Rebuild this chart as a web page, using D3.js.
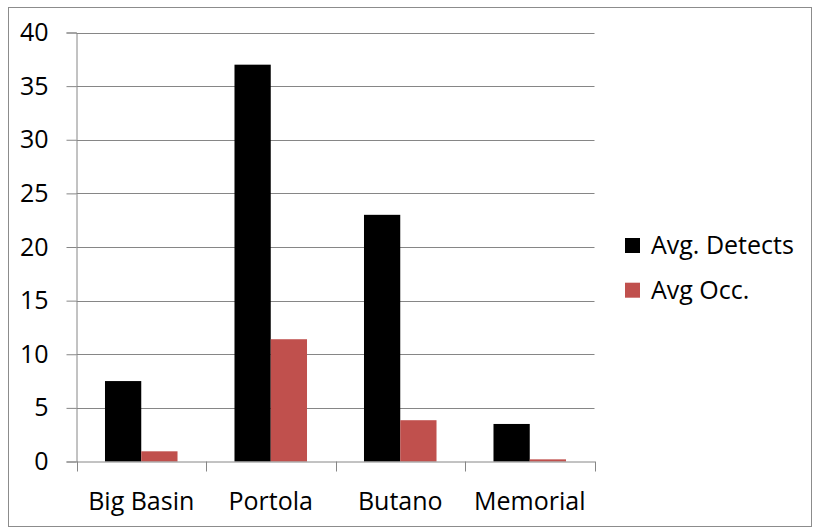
<!DOCTYPE html>
<html><head><meta charset="utf-8">
<script src="https://cdn.jsdelivr.net/npm/d3@7"></script>
<style>body{margin:0;background:#fff}text{font-family:"Open Sans",sans-serif}</style>
</head><body><svg id="c" width="815" height="529"></svg>
<script>
const categories = ["Big Basin","Portola","Butano","Memorial"];
const seriesNames = ["Avg. Detects","Avg Occ."];
const avgDetects = [7.5,37,23,3.5];
const avgOcc = [0.95,11.4,3.85,0.2];
const yTicks = [0,5,10,15,20,25,30,35,40];
const colors = ["#000000","#C0504D"];

const svg = d3.select("#c");
svg.append("rect").attr("x",8.5).attr("y",7.5).attr("width",803).attr("height",519)
  .attr("fill","#fff").attr("stroke","#8c8c8c").attr("stroke-width",1);

const L=76.5, R=594.5, T=32.5, B=461.5;
const x = d3.scaleBand().domain(categories).range([L,R]).paddingInner(0).paddingOuter(0);
const y = d3.scaleLinear().domain([0,40]).range([B,T]);
const fs = 25;
const ff = "Open Sans";

// gridlines
svg.append("g").selectAll("line").data(yTicks.filter(d=>d>0)).join("line")
  .attr("x1",L).attr("x2",R).attr("y1",d=>Math.round(y(d))+0.5).attr("y2",d=>Math.round(y(d))+0.5)
  .attr("stroke","#868686");

// y axis
const ya = svg.append("g").attr("transform",`translate(${L},0)`)
  .call(d3.axisLeft(y).tickValues(yTicks).tickSize(10).tickPadding(18));
ya.select(".domain").attr("stroke","#868686");
ya.selectAll(".tick line").attr("stroke","#868686");
ya.selectAll(".tick text").attr("font-size",fs).attr("fill","#000").style("font-family",ff);

// bars
const data = [avgDetects, avgOcc];
const bw = x.bandwidth()*0.28;
seriesNames.forEach((s,i)=>{
  svg.append("g").selectAll("rect").data(categories).join("rect")
    .attr("x",(c)=>x(c)+x.bandwidth()*0.22+i*bw)
    .attr("width",bw)
    .attr("y",(c,j)=>y(data[i][j]))
    .attr("height",(c,j)=>y(0)-y(data[i][j]))
    .attr("fill",colors[i]);
});

// x axis
const xa = svg.append("g").attr("transform",`translate(0,${B})`)
  .call(d3.axisBottom(x).tickSize(0).tickPadding(30));
xa.select(".domain").attr("stroke","#868686");
xa.selectAll(".tick text").attr("font-size",fs).attr("fill","#000").style("font-family",ff).attr("dy","0.72em");
const bounds = categories.map(c=>x(c)).concat([R]);
svg.append("g").selectAll("line").data(bounds).join("line")
  .attr("x1",d=>Math.round(d)+0.5).attr("x2",d=>Math.round(d)+0.5).attr("y1",B).attr("y2",B+10)
  .attr("stroke","#868686");

// legend
const lg = svg.append("g");
seriesNames.forEach((s,i)=>{
  const yy = 238 + i*44.7;
  lg.append("rect").attr("x",625).attr("y",yy).attr("width",15).attr("height",15).attr("fill",colors[i]);
  lg.append("text").attr("x",651).attr("y",yy+16).attr("font-size",fs).attr("fill","#000").style("font-family",ff).text(s);
});
</script></body></html>
